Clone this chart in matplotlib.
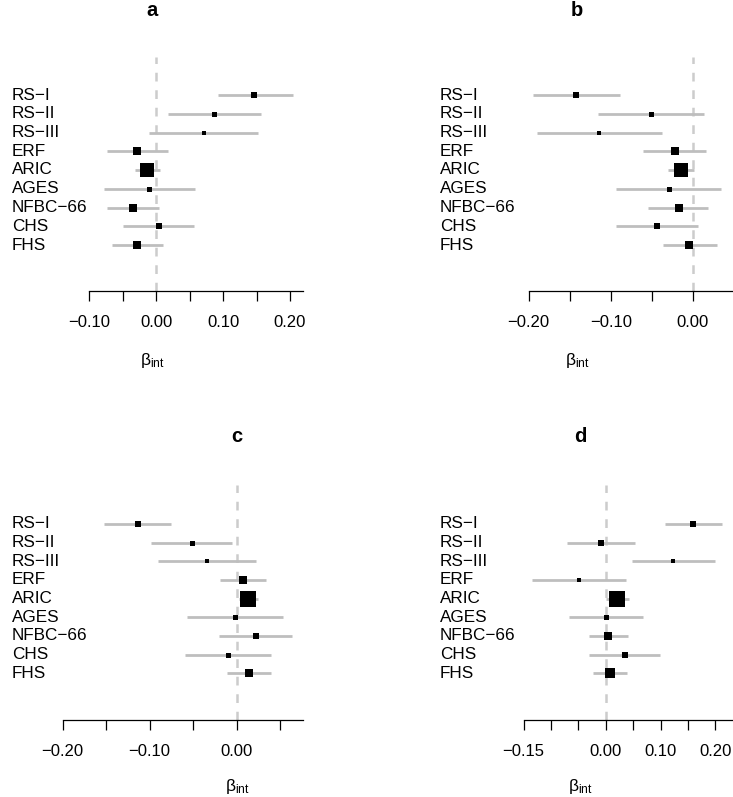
import matplotlib
matplotlib.use("Agg")
import matplotlib.pyplot as plt
import matplotlib.transforms as mtrans

plt.rcParams['font.family'] = ['Liberation Sans', 'DejaVu Sans']
plt.rcParams['mathtext.fontset'] = 'custom'
plt.rcParams['mathtext.rm'] = 'Liberation Sans'
plt.rcParams['mathtext.it'] = 'Liberation Sans:italic'
plt.rcParams['mathtext.bf'] = 'Liberation Sans:bold'

# ---------------- data ----------------
studies = ['RS\u2212I', 'RS\u2212II', 'RS\u2212III', 'ERF', 'ARIC', 'AGES',
           'NFBC\u221266', 'CHS', 'FHS']
panel_names = ['a', 'b', 'c', 'd']

a_est = [0.147, 0.087, 0.071, -0.028, -0.013, -0.010, -0.034, 0.004, -0.029]
a_lo = [0.092, 0.018, -0.010, -0.073, -0.032, -0.078, -0.073, -0.049, -0.066]
a_hi = [0.204, 0.156, 0.152, 0.018, 0.006, 0.058, 0.005, 0.057, 0.010]
a_size = [5, 4.5, 4, 6.5, 13, 4.5, 7, 5, 7]

b_est = [-0.142, -0.051, -0.114, -0.022, -0.014, -0.029, -0.017, -0.043, -0.004]
b_lo = [-0.195, -0.116, -0.190, -0.061, -0.030, -0.093, -0.054, -0.094, -0.036]
b_hi = [-0.089, 0.014, -0.038, 0.016, 0.002, 0.035, 0.019, 0.007, 0.029]
b_size = [5, 4.5, 4, 6.5, 13, 4.5, 7, 5.5, 7]

c_est = [-0.114, -0.051, -0.034, 0.007, 0.013, -0.002, 0.022, -0.010, 0.014]
c_lo = [-0.152, -0.098, -0.091, -0.019, 0.003, -0.057, -0.020, -0.059, -0.011]
c_hi = [-0.075, -0.005, 0.022, 0.034, 0.025, 0.053, 0.064, 0.039, 0.039]
c_size = [5, 4.5, 4, 7, 14, 4.5, 5, 4.5, 7]

d_est = [0.159, -0.0085, 0.123, -0.049, 0.021, 0.000, 0.004, 0.034, 0.007]
d_lo = [0.107, -0.071, 0.047, -0.134, 0.000, -0.068, -0.030, -0.030, -0.024]
d_hi = [0.212, 0.054, 0.199, 0.037, 0.043, 0.067, 0.040, 0.099, 0.038]
d_size = [5, 5, 4, 4, 14, 4.5, 7.5, 5, 9]

a_ticks = [-0.10, -0.05, 0.00, 0.05, 0.10, 0.15, 0.20]
a_ticklabels = ['\u22120.10', '', '0.00', '', '0.10', '', '0.20']
b_ticks = [-0.20, -0.15, -0.10, -0.05, 0.00]
b_ticklabels = ['\u22120.20', '', '\u22120.10', '', '0.00']
c_ticks = [-0.20, -0.15, -0.10, -0.05, 0.00, 0.05]
c_ticklabels = ['\u22120.20', '', '\u22120.10', '', '0.00', '']
d_ticks = [-0.15, -0.10, -0.05, 0.00, 0.05, 0.10, 0.15, 0.20]
d_ticklabels = ['\u22120.15', '', '', '0.00', '', '0.10', '', '0.20']

xlabel = r'$\mathrm{\beta}_{\mathrm{int}}$'

# ---------------- layout (pixels) ----------------
W, H = 733, 797
fig = plt.figure(figsize=(W / 100, H / 100), dpi=100)

layout = {
    'a': dict(L=89, R=303, xlim=(-0.10, 0.2194), T=57, B=291, r0=95, dr=18.75,
              lx=12, cx=152, ty=11, xy=360),
    'b': dict(L=528.7, R=733, xlim=(-0.20, 0.0491), T=57, B=291, r0=95, dr=18.75,
              lx=440, cx=577, ty=11, xy=360),
    'c': dict(L=62.7, R=302.7, xlim=(-0.20, 0.0759), T=485, B=720, r0=524, dr=18.66,
              lx=12, cx=237, ty=437, xy=786),
    'd': dict(L=523.7, R=733, xlim=(-0.15, 0.232), T=485, B=720, r0=524, dr=18.66,
              lx=440, cx=580, ty=437, xy=786),
}

panels = {
    'a': (a_est, a_lo, a_hi, a_size, a_ticks, a_ticklabels),
    'b': (b_est, b_lo, b_hi, b_size, b_ticks, b_ticklabels),
    'c': (c_est, c_lo, c_hi, c_size, c_ticks, c_ticklabels),
    'd': (d_est, d_lo, d_hi, d_size, d_ticks, d_ticklabels),
}

n = len(studies)
ypos = [n - 1 - i for i in range(n)]

for name in panel_names:
    est, lo, hi, size, ticks, ticklabels = panels[name]
    lay = layout[name]
    ax = fig.add_axes([lay['L'] / W, 1 - lay['B'] / H,
                       (lay['R'] - lay['L']) / W, (lay['B'] - lay['T']) / H])
    ax.set_xlim(*lay['xlim'])
    ybot = (n - 1) - (lay['B'] - lay['r0']) / lay['dr']
    ytop = (n - 1) + (lay['r0'] - lay['T']) / lay['dr']
    ax.set_ylim(ybot, ytop)

    ax.axvline(0, color='#cccccc', lw=1.8, ls=(0, (3.5, 3.5)), zorder=1)
    for y, e, l, h, s in zip(ypos, est, lo, hi, size):
        ax.plot([l, h], [y, y], color='#bebebe', lw=2.0, solid_capstyle='butt', zorder=2)
        ax.plot([e], [y], marker='s', color='black', ms=s * 0.8, mew=0,
                ls='none', zorder=3)

    for sp in ['top', 'right', 'left']:
        ax.spines[sp].set_visible(False)
    ax.spines['bottom'].set_linewidth(0.9)
    ax.set_yticks([])
    ax.set_xticks(ticks)
    ax.set_xticklabels(ticklabels, fontsize=12)
    ax.tick_params(axis='x', length=7.2, width=0.9, pad=10.2, direction='out')

    tr = mtrans.blended_transform_factory(fig.transFigure, ax.transData)
    for y, lab in zip(ypos, studies):
        ax.text(lay['lx'] / W, y, lab, transform=tr, ha='left', va='center',
                fontsize=12.3, clip_on=False)

    fig.text(lay['cx'] / W, 1 - lay['ty'] / H, name, ha='center', va='center',
             fontsize=14.5, fontweight='bold')
    fig.text(lay['cx'] / W, 1 - lay['xy'] / H, xlabel, ha='center', va='center',
             fontsize=12.5)

fig.savefig('out.png', dpi=100)
